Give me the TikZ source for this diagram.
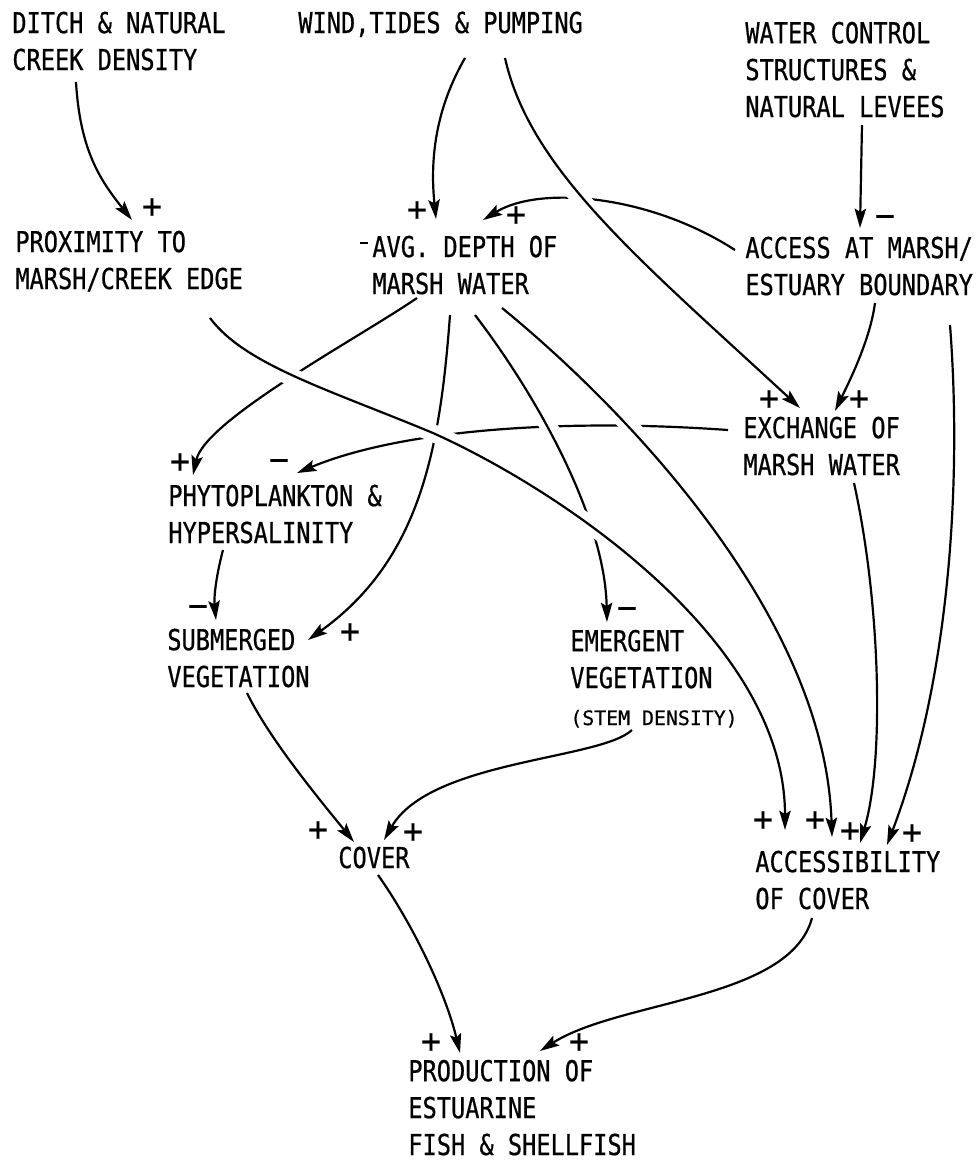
\documentclass[tikz,border=0pt]{standalone}
\usepackage{fontspec}
\setmonofont{DejaVu Sans Mono}[FakeStretch=0.82, FakeBold=0.6]
\newfontfamily\stemfont{DejaVu Sans Mono}[FakeBold=0.6]
\newfontfamily\signfont{DejaVu Sans Mono}[FakeBold=0.3]
\usetikzlibrary{arrows.meta}

\tikzset{
  factor/.style={anchor=base west, inner sep=0pt, align=left,
    font=\ttfamily\fontsize{16.4}{21}\selectfont},
  sign/.style={inner sep=0pt, font=\signfont\fontsize{19}{21}\selectfont},
  link/.style={line width=1.25pt, -{Stealth[length=11pt,width=6.5pt,inset=2pt]}},
  over/.style={preaction={draw=white, line width=10pt, arrows=-,
    shorten <=14pt, shorten >=14pt}}
}

\begin{document}
\begin{tikzpicture}[x=0.02cm, y=-0.02cm]
    \useasboundingbox (0,0) rectangle (976,1161);

    % ==========================================
    % FACTORS (placed at the baseline of their last line)
    % ==========================================
    \node[factor] (ditch)  at (12,70)    {DITCH \& NATURAL\\CREEK DENSITY};
    \node[factor] (wind)   at (298,33)   {WIND,TIDES \& PUMPING};
    \node[factor] (water)  at (745,117)  {WATER CONTROL\\STRUCTURES \&\\NATURAL LEVEES};
    \node[factor] (prox)   at (15,289)   {PROXIMITY TO\\MARSH/CREEK EDGE};
    \node[factor] (avg)    at (372,294)  {AVG. DEPTH OF\\MARSH WATER};
    \node[factor] (access) at (745,295)  {ACCESS AT MARSH/\\ESTUARY BOUNDARY};
    \node[factor] (exch)   at (743,475)  {EXCHANGE OF\\MARSH WATER};
    \node[factor] (phyto)  at (168,543)  {PHYTOPLANKTON \&\\HYPERSALINITY};
    \node[factor] (subm)   at (167,687)  {SUBMERGED\\VEGETATION};
    \node[factor] (emerg)  at (570,725)  {EMERGENT\\VEGETATION\\{\stemfont\fontsize{11.3}{21}\selectfont(STEM DENSITY)}};
    \node[factor] (cover)  at (338,868)  {COVER};
    \node[factor] (accsb)  at (755,909)  {ACCESSIBILITY\\OF COVER};
    \node[factor] (prod)   at (408,1155) {PRODUCTION OF\\ESTUARINE\\FISH \& SHELLFISH};

    % small tick in front of AVG.
    \draw[line width=1.25pt] ([shift={(-12,-51)}]avg.base west) -- ++(8,0);

    % ==========================================
    % LINKS (lower ones first, crossing ones with a white gap)
    % ==========================================
    \draw[link] ([shift={(-15,-45)}]exch.base west) .. controls +(-168,-12) and +(103,-43) .. ([shift={(129,-70)}]phyto.base west);
    \draw[link] ([shift={(-10,-45)}]access.base west) .. controls +(-85,-55) and +(57,-35) .. ([shift={(111,-74)}]avg.base west);

    \draw[link] ([shift={(64,12)}]ditch.base west) .. controls +(4,68) and +(-32,-40) .. ([shift={(117,-69)}]prox.base west);
    \draw[link] ([shift={(167,25)}]wind.base west) .. controls +(-30,52) and +(-6,-59) .. ([shift={(64,-75)}]avg.base west);
    \draw[link] ([shift={(117,8)}]water.base west) -- ([shift={(115,-67)}]access.base west);
    \draw[link] ([shift={(130,8)}]access.base west) .. controls +(-5,37) and +(15,-31) .. ([shift={(92,-64)}]exch.base west);
    \draw[link] ([shift={(205,30)}]access.base west) .. controls +(12,155) and +(63,-165) .. ([shift={(132,-64)}]accsb.base west);
    \draw[link] ([shift={(111,8)}]exch.base west) .. controls +(26,117) and +(25,-83) .. ([shift={(105,-66)}]accsb.base west);
    \draw[link] ([shift={(45,4)}]avg.base west) .. controls +(-60,41) and +(12,-55) .. ([shift={(25,-68)}]phyto.base west);
    \draw[link, over] ([shift={(78,21)}]avg.base west) .. controls +(-10,135) and +(112,-80) .. ([shift={(141,-47)}]subm.base west);
    \draw[link, over] ([shift={(103,21)}]avg.base west) .. controls +(65,85) and +(-2,-102) .. ([shift={(37,-103)}]emerg.base west);
    \draw[link, over] ([shift={(130,14)}]avg.base west) .. controls +(113,92) and +(-7,-227) .. ([shift={(77,-72)}]accsb.base west);
    \draw[link, over] ([shift={(207,25)}]wind.base west) .. controls +(25,112) and +(-160,-148) .. ([shift={(57,-67)}]exch.base west);
    \draw[link, over] ([shift={(195,29)}]prox.base west) .. controls +(35,47) and (330,390) .. (433,433)
        .. controls (560,490) and +(0,-190) .. ([shift={(30,-79)}]accsb.base west);

    \draw[link] ([shift={(55,7)}]phyto.base west) .. controls +(-8,30) and +(-2,-20) .. ([shift={(49,-67)}]subm.base west);
    \draw[link] ([shift={(80,6)}]subm.base west) .. controls +(23,47) and +(-34,-42) .. ([shift={(16,-26)}]cover.base west);
    \draw[link] ([shift={(62,5)}]emerg.base west) .. controls +(-32,30) and +(46,-80) .. ([shift={(46,-28)}]cover.base west);
    \draw[link] ([shift={(40,7)}]cover.base west) .. controls +(32,45) and +(-15,-63) .. ([shift={(52,-102)}]prod.base west);
    \draw[link] ([shift={(57,9)}]accsb.base west) .. controls +(-22,82) and +(80,-51) .. ([shift={(132,-104)}]prod.base west);

    % ==========================================
    % SIGNS
    % ==========================================
    \foreach \i/\x/\y/\s in {1/152/208/+, 2/417/211/+, 3/516/216/+, 4/885/221/−,
        5/769/400/+, 6/859/400/+, 7/180/463/+, 8/279/465/−, 9/198/611/−,
        10/350/633/+, 11/627/613/−, 12/318/831/+, 13/413/833/+, 14/763/821/+,
        15/815/821/+, 16/850/832/+, 17/912/834/+, 18/431/1043/+, 19/579/1043/+}
        \node[sign] (s\i) at (\x,\y) {\s};
\end{tikzpicture}
\end{document}
